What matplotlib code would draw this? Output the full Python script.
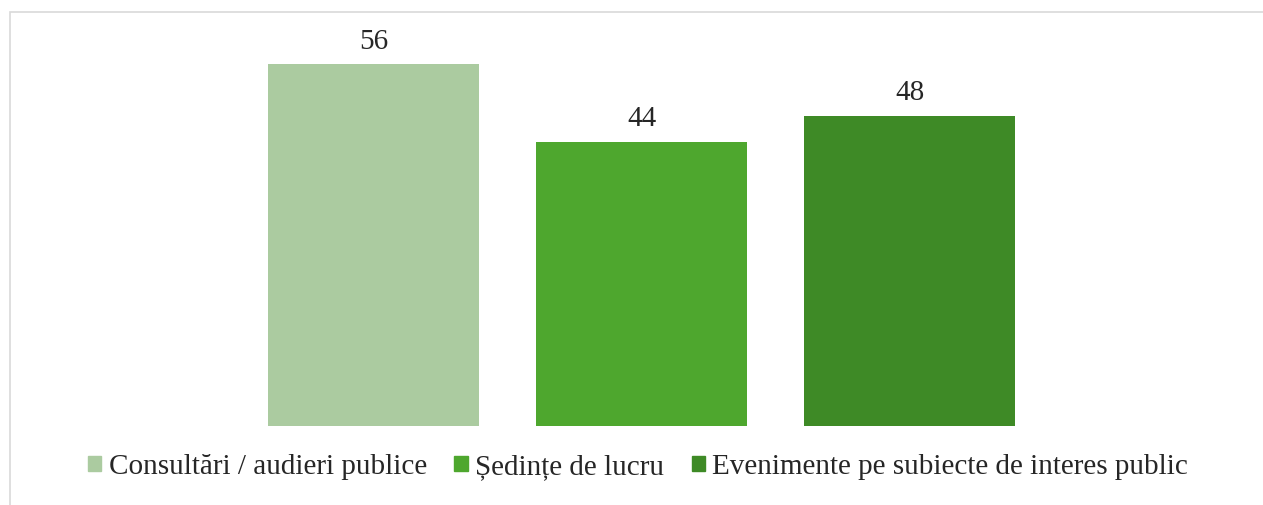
import matplotlib
matplotlib.use("Agg")
import matplotlib.pyplot as plt
from matplotlib.patches import Rectangle, Patch

categories = ["Consultări / audieri publice", "Ședințe de lucru", "Evenimente pe subiecte de interes public"]
values = [56, 44, 48]
colors = ["#ABCBA0", "#4EA72E", "#3E8A26"]

W, H = 1263, 505
fig = plt.figure(figsize=(W / 100, H / 100), dpi=100)
plt.rcParams['font.family'] = ['Liberation Serif', 'DejaVu Serif']

# chart frame (light gray)
fig.patches.append(Rectangle((10 / W, -0.1), 1.2, (H - 12) / H + 0.1, transform=fig.transFigure,
                             fill=False, edgecolor="#D9D9D9", linewidth=1.2))

left, right = 239.5, 1043.5
top, bottom = 38.4, 426
ax = fig.add_axes([left / W, 1 - bottom / H, (right - left) / W, (bottom - top) / H])
x = list(range(len(categories)))
bars = ax.bar(x, values, width=0.787, color=colors, label=categories)
ax.set_xlim(-0.5, 2.5)
ax.set_ylim(0, 60)
ax.axis("off")
for b, v in zip(bars, values):
    ax.annotate(str(v), (b.get_x() + b.get_width() / 2, v), xytext=(0, 7), textcoords="offset points",
                ha="center", va="bottom", fontsize=21, color="#262626")

handles = [Patch(color=c, label=l) for c, l in zip(colors, categories)]
fig.legend(handles=handles, loc="center", bbox_to_anchor=(638 / W, 1 - 467 / H), ncol=3, frameon=False,
           fontsize=21, handlelength=0.45, handleheight=0.45, handletextpad=0.25, columnspacing=0.95,
           labelcolor="#262626")

fig.savefig("out.png", dpi=100)
